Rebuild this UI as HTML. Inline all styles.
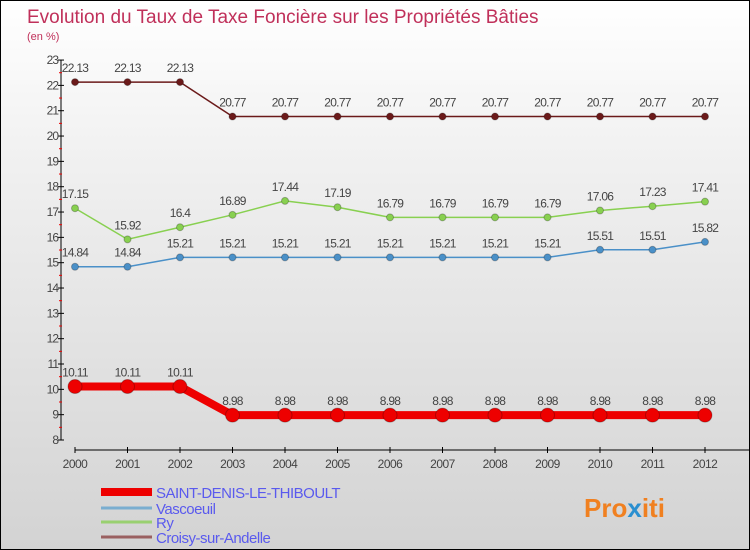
<!DOCTYPE html>
<html><head><meta charset="utf-8"><style>
body{margin:0}
#c{width:748px;height:548px;border:1px solid #000;background:linear-gradient(#fff 0%,#f0f0f0 30%,#d3d3d3 100%);position:relative;font-family:"Liberation Sans",sans-serif;overflow:hidden}
</style></head><body>
<div id="c">
<svg id="s" width="748" height="548" xmlns="http://www.w3.org/2000/svg">
<text x="26" y="22" font-size="19" fill="#c0305a">Evolution du Taux de Taxe Foncière sur les Propriétés Bâties</text>
<text x="26" y="39" font-size="11" fill="#c0305a">(en %)</text>
<g id="axes"></g><g id="series"></g><g id="legend"></g>
<text x="583" y="516" font-size="26" font-weight="bold" fill="#f08020">Pro<tspan fill="#2a8fd0">x</tspan>iti</text>
</svg></div>
<script>
const years=[2000,2001,2002,2003,2004,2005,2006,2007,2008,2009,2010,2011,2012];
const yTicks=[8,9,10,11,12,13,14,15,16,17,18,19,20,21,22,23];
const saint=[10.11,10.11,10.11,8.98,8.98,8.98,8.98,8.98,8.98,8.98,8.98,8.98,8.98];
const vasc=[14.84,14.84,15.21,15.21,15.21,15.21,15.21,15.21,15.21,15.21,15.51,15.51,15.82];
const ry=[17.15,15.92,16.4,16.89,17.44,17.19,16.79,16.79,16.79,16.79,17.06,17.23,17.41];
const croisy=[22.13,22.13,22.13,20.77,20.77,20.77,20.77,20.77,20.77,20.77,20.77,20.77,20.77];
const names=["SAINT-DENIS-LE-THIBOULT","Vascoeuil","Ry","Croisy-sur-Andelle"];
const NS="http://www.w3.org/2000/svg";
const X=i=>74+i*52.5, Y=v=>439-(v-8)*25.33;
function mk(p,t,a){const e=document.createElementNS(NS,t);for(const k in a)e.setAttribute(k,a[k]);p.appendChild(e);return e;}
const ax=document.getElementById('axes');
let l=mk(ax,'line',{x1:60,y1:Y(23),x2:60,y2:Y(8),stroke:'#000'});

l=mk(ax,'line',{x1:74,y1:449,x2:748,y2:449,stroke:'#000'});

yTicks.forEach(v=>{mk(ax,'line',{x1:57,y1:Y(v),x2:63,y2:Y(v),stroke:'#000'});
 if(v<23)mk(ax,'line',{x1:58,y1:Y(v+0.5),x2:61,y2:Y(v+0.5),stroke:'#e00'});
 const t=mk(ax,'text',{x:57,y:Y(v)+4,'font-size':12,fill:'#444','text-anchor':'end','letter-spacing':'-1'});t.textContent=v;
 });
years.forEach((y,i)=>{mk(ax,'line',{x1:X(i),y1:446,x2:X(i),y2:452,stroke:'#000'});
 const t=mk(ax,'text',{x:X(i),y:467,'font-size':12,fill:'#444','text-anchor':'middle','letter-spacing':'-0.5'});t.textContent=y;
 });
const sg=document.getElementById('series');
function series(d,col,w,r,name){
 const g=mk(sg,'g',{});
 mk(g,'polyline',{points:d.map((v,i)=>X(i)+','+Y(v)).join(' '),fill:'none',stroke:col,'stroke-width':w});
 d.forEach((v,i)=>{const c=mk(g,'circle',{cx:X(i),cy:Y(v),r:r,fill:col,stroke:'rgba(0,0,0,0.25)'});
  
  const t=mk(g,'text',{x:X(i),y:Y(v)-10,'font-size':12,fill:'#444','text-anchor':'middle','letter-spacing':'-0.7'});t.textContent=v;
  });
}
series(croisy,'#6b1a1a',1.5,3.5,'series-croisy');
series(ry,'#88d050',1.5,3.5,'series-ry');
series(vasc,'#4a90c8',1.5,3.5,'series-vascoeuil');
series(saint,'#ee0000',8,7,'series-saint-denis');
const lg=document.getElementById('legend');
const cols=['#ee0000','#7aaed0','#99d070','#9a6060'],ws=[8,3,3,3],ys=[495,511,525,540];
names.forEach((n,i)=>{const g=mk(lg,'g',{});
 mk(g,'line',{x1:100,y1:ys[i]-4,x2:151,y2:ys[i]-4,stroke:cols[i],'stroke-width':ws[i]});
 const t=mk(g,'text',{x:155,y:ys[i]+2,'font-size':15,fill:'#5a5aee','letter-spacing':'-0.5'});t.textContent=n;});
</script>
</body></html>
